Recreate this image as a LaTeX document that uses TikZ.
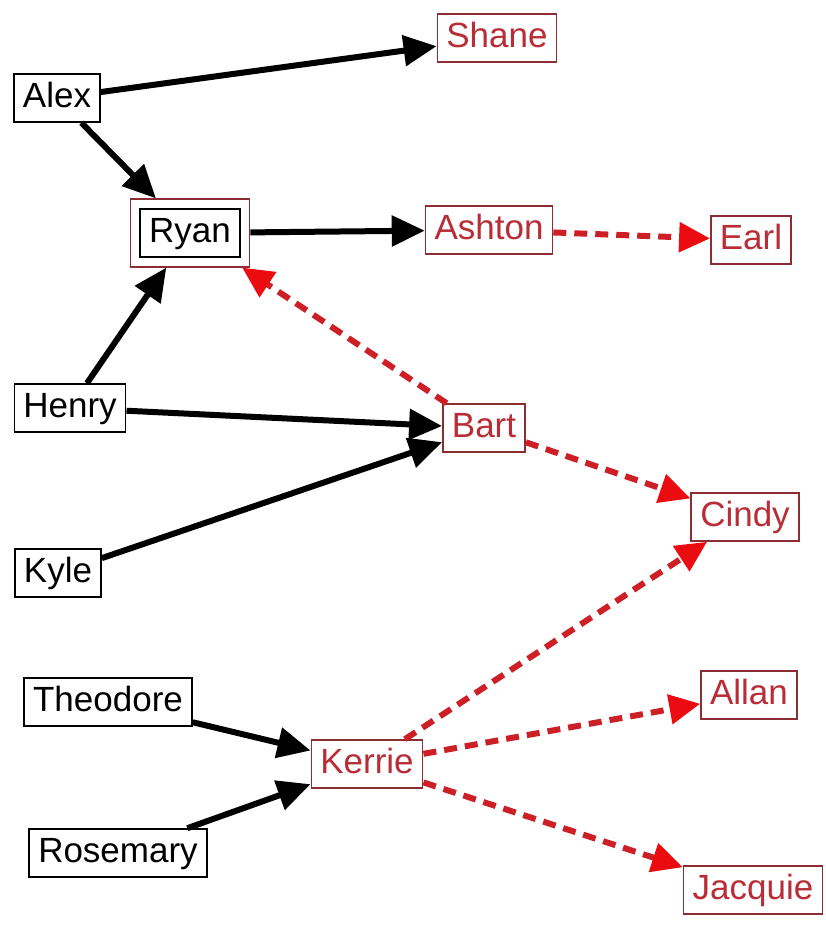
\documentclass[tikz,border=0pt]{standalone}
\usepackage{fontspec}
\setmainfont{Liberation Sans}
\usetikzlibrary{arrows.meta,fit}
\definecolor{edgered}{RGB}{205,32,38}
\definecolor{tipred}{RGB}{235,12,18}
\definecolor{boxred}{RGB}{140,45,50}
\definecolor{textred}{RGB}{185,45,55}
\begin{document}
\begin{tikzpicture}
    [x=1pt,y=-1pt,
     person/.style={draw,line width=1.6pt,fill=white,inner xsep=9pt,inner ysep=7pt,
        text height=26pt,text depth=8pt,font=\fontsize{35}{40}\selectfont},
     heir/.style={person,draw=boxred,text=textred},
     link/.style={line width=6pt,-{Triangle[length=33pt,width=30pt]}},
     redlink/.style={line width=6pt,edgered,dash pattern=on 13pt off 8pt,
        -{Triangle[length=31pt,width=29pt,color=tipred]}}]
		\useasboundingbox (0,0) rectangle (825,929);

		\node [heir] (shane) at (497,38) {Shane};
		\node [person] (alex) at (57,98) {Alex};
		\node [person] (ryan) at (190,233) {Ryan};
		\node [draw=boxred,line width=1.6pt,inner sep=9pt,fit=(ryan)] (ryanbox) {};
		\node [heir] (ashton) at (489,230) {Ashton};
		\node [heir] (earl) at (751,240) {Earl};
		\node [person] (henry) at (70,408) {Henry};
		\node [heir] (bart) at (484,428) {Bart};
		\node [heir] (cindy) at (745,517) {Cindy};
		\node [person] (kyle) at (58,573) {Kyle};
		\node [person] (theodore) at (108,702) {Theodore};
		\node [heir] (allan) at (749,695) {Allan};
		\node [heir] (kerrie) at (367,764) {Kerrie};
		\node [person] (rosemary) at (118,853) {Rosemary};
		\node [heir] (jacquie) at (753,890) {Jacquie};

		\draw[link] (alex) -- (shane);
		\draw[link] (alex) -- (ryanbox);
		\draw[link] (henry) -- (ryanbox);
		\draw[link] (ryanbox) -- (ashton);
		\draw[link] (henry) -- (bart);
		\draw[link] (kyle) -- (bart);
		\draw[link] (theodore) -- (kerrie);
		\draw[link] (rosemary) -- (kerrie);

		\draw[redlink] (ashton) -- (earl);
		\draw[redlink] (bart) -- (ryanbox);
		\draw[redlink] (bart) -- (cindy);
		\draw[redlink] (kerrie) -- (cindy);
		\draw[redlink] (kerrie) -- (allan);
		\draw[redlink] (kerrie) -- (jacquie);
\end{tikzpicture}
\end{document}
